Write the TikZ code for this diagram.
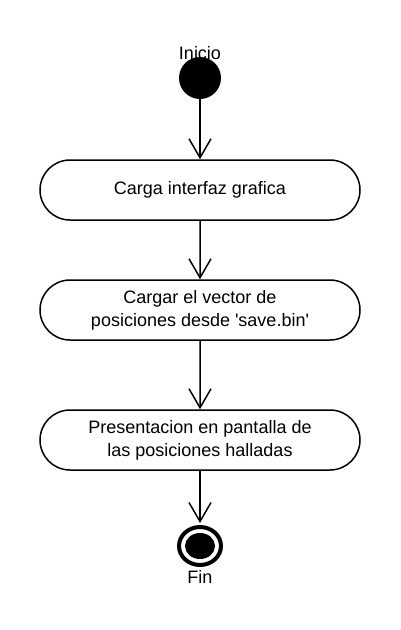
\documentclass[tikz,border=0pt]{standalone}
\usepackage{fontspec}
\setmainfont{Liberation Sans}[Ligatures=TeXOff]
\usetikzlibrary{arrows.meta,shapes.geometric,shapes.misc}
\begin{document}
\begin{tikzpicture}[x=1pt,y=-1pt,
  every node/.style={font=\fontsize{18}{23}\selectfont},
  actbox/.style={draw,line width=1.5pt,rounded rectangle,minimum width=320pt,minimum height=60pt,align=center,inner sep=0pt},
  flow/.style={line width=1.5pt,-{Straight Barb[length=19pt,width=22pt,line width=1.5pt]}},
  lbl/.style={inner sep=0pt}]
\useasboundingbox (0,0) rectangle (400,630);
\fill[white] (0,0) rectangle (400,630);
\node[circle,fill=black,minimum size=42pt,inner sep=0pt] (start) at (200,78) {};
\node[lbl] (inicio) at (200,53) {Inicio};
\node[actbox] (a1) at (200,190) {Carga interfaz grafica};
\node[actbox] (a2) at (200,310) {Cargar el vector de\\posiciones desde 'save.bin'};
\node[actbox] (a3) at (200,440) {Presentacion en pantalla de\\las posiciones halladas};
\node[ellipse,draw,line width=4pt,minimum width=42pt,minimum height=38pt,inner sep=0pt] (fin) at (200,546) {};
\node[ellipse,fill=black,minimum width=30pt,minimum height=26pt,inner sep=0pt] (fincore) at (fin.center) {};
\node[lbl] (finlbl) at (200,577) {Fin};
\draw[flow] (start) -- (a1);
\draw[flow] (a1) -- (a2);
\draw[flow] (a2) -- (a3);
\draw[flow,shorten >=2pt] (a3) -- (fin);
\end{tikzpicture}
\end{document}
